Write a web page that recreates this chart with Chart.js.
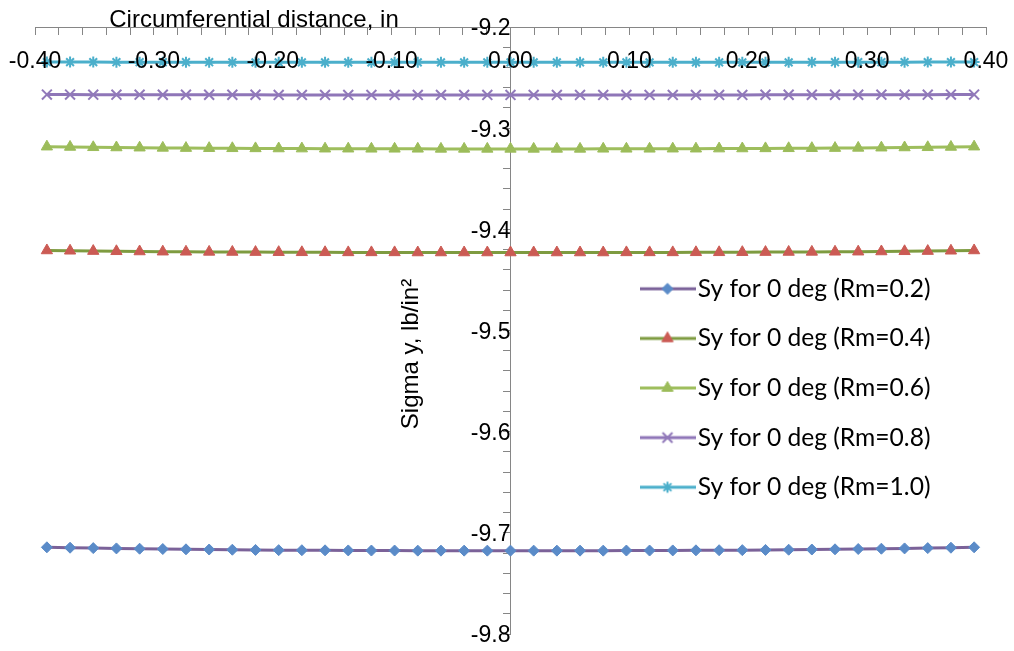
<!DOCTYPE html>
<html>
<head>
<meta charset="utf-8">
<script src="https://cdn.jsdelivr.net/npm/chart.js@4.4.0/dist/chart.umd.min.js"></script>
<style>
  html, body { margin: 0; padding: 0; background: #ffffff; }
  #wrap { width: 1014px; height: 651px; position: relative; }
</style>
</head>
<body>
<div id="wrap"><canvas id="chart" width="1014" height="651"></canvas></div>
<script>
// Circumferential distance (in) of each sample point
const circDistance = [
  -0.3900, -0.3705, -0.3510, -0.3315, -0.3120, -0.2925, -0.2730, -0.2535, -0.2340, -0.2145,
  -0.1950, -0.1755, -0.1560, -0.1365, -0.1170, -0.0975, -0.0780, -0.0585, -0.0390, -0.0195,
   0.0000,
   0.0195,  0.0390,  0.0585,  0.0780,  0.0975,  0.1170,  0.1365,  0.1560,  0.1755,  0.1950,
   0.2145,  0.2340,  0.2535,  0.2730,  0.2925,  0.3120,  0.3315,  0.3510,  0.3705,  0.3900
];

// Sigma y (lb/in^2) for 0 deg, one array per Rm
const syRm02 = [
  -9.7143, -9.7147, -9.7151, -9.7154, -9.7157, -9.7160, -9.7163, -9.7165, -9.7167, -9.7169,
  -9.7171, -9.7172, -9.7173, -9.7174, -9.7175, -9.7175, -9.7176, -9.7176, -9.7176, -9.7176,
  -9.7176,
  -9.7176, -9.7176, -9.7176, -9.7176, -9.7175, -9.7175, -9.7174, -9.7173, -9.7172, -9.7171,
  -9.7169, -9.7167, -9.7165, -9.7163, -9.7160, -9.7157, -9.7154, -9.7151, -9.7147, -9.7143
];
const syRm04 = [
  -9.4209, -9.4212, -9.4215, -9.4217, -9.4219, -9.4221, -9.4222, -9.4223, -9.4224, -9.4225,
  -9.4226, -9.4227, -9.4227, -9.4228, -9.4228, -9.4228, -9.4229, -9.4229, -9.4229, -9.4229,
  -9.4229,
  -9.4229, -9.4229, -9.4229, -9.4229, -9.4228, -9.4228, -9.4228, -9.4227, -9.4227, -9.4226,
  -9.4225, -9.4224, -9.4223, -9.4222, -9.4221, -9.4219, -9.4217, -9.4215, -9.4212, -9.4209
];
const syRm06 = [
  -9.3183, -9.3186, -9.3189, -9.3191, -9.3193, -9.3195, -9.3197, -9.3198, -9.3199, -9.3200,
  -9.3201, -9.3202, -9.3203, -9.3203, -9.3204, -9.3204, -9.3204, -9.3205, -9.3205, -9.3205,
  -9.3205,
  -9.3205, -9.3205, -9.3205, -9.3204, -9.3204, -9.3204, -9.3203, -9.3203, -9.3202, -9.3201,
  -9.3200, -9.3199, -9.3198, -9.3197, -9.3195, -9.3193, -9.3191, -9.3189, -9.3186, -9.3183
];
const syRm08 = [
  -9.2668, -9.2668, -9.2669, -9.2669, -9.2669, -9.2670, -9.2670, -9.2670, -9.2670, -9.2670,
  -9.2671, -9.2671, -9.2671, -9.2671, -9.2671, -9.2671, -9.2671, -9.2671, -9.2671, -9.2671,
  -9.2671,
  -9.2671, -9.2671, -9.2671, -9.2671, -9.2671, -9.2671, -9.2671, -9.2671, -9.2671, -9.2671,
  -9.2670, -9.2670, -9.2670, -9.2670, -9.2670, -9.2669, -9.2669, -9.2669, -9.2668, -9.2668
];
const syRm10 = [
  -9.2347, -9.2347, -9.2347, -9.2348, -9.2348, -9.2348, -9.2348, -9.2348, -9.2349, -9.2349,
  -9.2349, -9.2349, -9.2349, -9.2349, -9.2349, -9.2349, -9.2349, -9.2349, -9.2349, -9.2349,
  -9.2349,
  -9.2349, -9.2349, -9.2349, -9.2349, -9.2349, -9.2349, -9.2349, -9.2349, -9.2349, -9.2349,
  -9.2349, -9.2349, -9.2348, -9.2348, -9.2348, -9.2348, -9.2348, -9.2347, -9.2347, -9.2347
];

const seriesNames = [
  'Sy for 0 deg (Rm=0.2)',
  'Sy for 0 deg (Rm=0.4)',
  'Sy for 0 deg (Rm=0.6)',
  'Sy for 0 deg (Rm=0.8)',
  'Sy for 0 deg (Rm=1.0)'
];
const xTickLabels = ['-0.40', '-0.30', '-0.20', '-0.10', '0.00', '0.10', '0.20', '0.30', '0.40'];
const yTickLabels = ['-9.2', '-9.3', '-9.4', '-9.5', '-9.6', '-9.7', '-9.8'];
const xTitle = 'Circumferential distance, in';
const yTitle = 'Sigma y, lb/in\u00B2';

// Line / marker styling per series
const seriesStyles = [
  { line: '#7B6299', marker: '#5A8BC8', pointStyle: 'rectRot',  radius: 5.5, markerBorder: 1 },
  { line: '#7E9B40', marker: '#CB5B54', pointStyle: 'triangle', radius: 6.5, markerBorder: 1 },
  { line: '#9EBE5D', marker: '#9CBC5A', pointStyle: 'triangle', radius: 6.5, markerBorder: 1 },
  { line: '#8F76B8', marker: '#9179BA', pointStyle: 'crossRot', radius: 7,   markerBorder: 2 },
  { line: '#4BAFCB', marker: '#4BAFCB', pointStyle: 'star',     radius: 5.5, markerBorder: 2 }
];
const seriesValues = [syRm02, syRm04, syRm06, syRm08, syRm10];

const tickFont = { family: '"Liberation Sans", Arial, sans-serif', size: 23 };
const axisGray = '#868686';

const datasets = seriesValues.map((vals, i) => {
  const s = seriesStyles[i];
  return {
    label: seriesNames[i],
    data: circDistance.map((x, k) => ({ x: x, y: vals[k] })),
    borderColor: s.line,
    backgroundColor: s.marker,
    borderWidth: 3,
    tension: 0,
    fill: false,
    pointStyle: s.pointStyle,
    pointRadius: s.radius,
    pointHoverRadius: s.radius,
    pointBackgroundColor: s.marker,
    pointBorderColor: s.marker,
    pointBorderWidth: s.markerBorder
  };
});

// Legend symbols: a short line segment with the series marker in its middle
const legendIcons = seriesStyles.map(s => {
  const c = document.createElement('canvas');
  c.width = 56; c.height = 16;
  const g = c.getContext('2d');
  g.strokeStyle = s.line;
  g.lineWidth = 3;
  g.beginPath(); g.moveTo(0, 8); g.lineTo(56, 8); g.stroke();
  g.fillStyle = s.marker;
  g.strokeStyle = s.marker;
  g.lineWidth = s.markerBorder;
  Chart.helpers.drawPoint(g, { pointStyle: s.pointStyle, radius: s.radius, rotation: 0, borderWidth: s.markerBorder }, 28, 8);
  return c;
});

// Place the legend box inside the plot, to the right of the vertical axis
const legendPlacement = {
  id: 'legendPlacement',
  afterLayout(chart) {
    const lg = chart.legend;
    if (!lg) return;
    const w = lg.width;
    lg.left = 624.5;
    lg.top = 251.5;
    lg.right = lg.left + w;
    lg.bottom = chart.height;
    lg.height = lg.bottom - lg.top;
  }
};

// Axis titles: horizontal one above the top axis, vertical one beside the value axis
const axisTitles = {
  id: 'axisTitles',
  afterDraw(chart) {
    const ctx = chart.ctx;
    ctx.save();
    ctx.fillStyle = '#000000';
    ctx.textAlign = 'center';
    ctx.textBaseline = 'alphabetic';
    ctx.font = '24px "Liberation Sans", Arial, sans-serif';
    ctx.fillText(xTitle, 254, 27);
    ctx.translate(418, 354);
    ctx.rotate(-Math.PI / 2);
    ctx.fillText(yTitle, 0, 0);
    ctx.restore();
  }
};

// Let the layout padding alone fix the plot rectangle (labels may overhang it)
function noScalePadding(scale) {
  scale.paddingLeft = 0;
  scale.paddingRight = 0;
  scale.paddingTop = 0;
  scale.paddingBottom = 0;
}

new Chart(document.getElementById('chart'), {
  type: 'line',
  data: { datasets: datasets },
  plugins: [legendPlacement, axisTitles],
  options: {
    responsive: false,
    animation: false,
    devicePixelRatio: 1,
    layout: { padding: { left: 35, right: 28, top: 27, bottom: 17 } },
    plugins: {
      tooltip: { enabled: false },
      title: { display: false },
      legend: {
        display: true,
        position: 'chartArea',
        align: 'start',
        labels: {
          usePointStyle: true,
          pointStyleWidth: 36,
          padding: 25,
          color: '#000000',
          font: { family: 'Lato, "Open Sans", sans-serif', size: 24.6 },
          generateLabels(chart) {
            const items = Chart.defaults.plugins.legend.labels.generateLabels(chart);
            items.forEach((it, i) => { it.pointStyle = legendIcons[i]; });
            return items;
          }
        }
      }
    },
    scales: {
      x: {
        type: 'linear',
        min: -0.4,
        max: 0.4,
        position: { y: -9.2 },
        afterFit: noScalePadding,
        ticks: {
          stepSize: 0.02,
          autoSkip: false,
          maxRotation: 0,
          minRotation: 0,
          padding: 14,
          color: '#000000',
          font: tickFont,
          z: 1,
          callback(v) {
            const k = Math.round(v * 50);
            return k % 5 === 0 ? xTickLabels[k / 5 + 4] : '';
          }
        },
        grid: { drawOnChartArea: false, drawTicks: true, tickLength: 7, color: axisGray, lineWidth: 1 },
        border: { display: true, color: axisGray, width: 1 }
      },
      y: {
        type: 'linear',
        min: -9.8,
        max: -9.2,
        position: { x: 0 },
        afterFit: noScalePadding,
        ticks: {
          stepSize: 0.02,
          autoSkip: false,
          padding: 16,
          labelOffset: 2,
          color: '#000000',
          font: tickFont,
          callback(v) {
            const k = Math.round(v * 50);
            return k % 5 === 0 ? yTickLabels[-92 - k / 5] : '';
          }
        },
        grid: { drawOnChartArea: false, drawTicks: true, tickLength: 7, color: axisGray, lineWidth: 1 },
        border: { display: true, color: axisGray, width: 1 }
      }
    }
  }
});
</script>
</body>
</html>
